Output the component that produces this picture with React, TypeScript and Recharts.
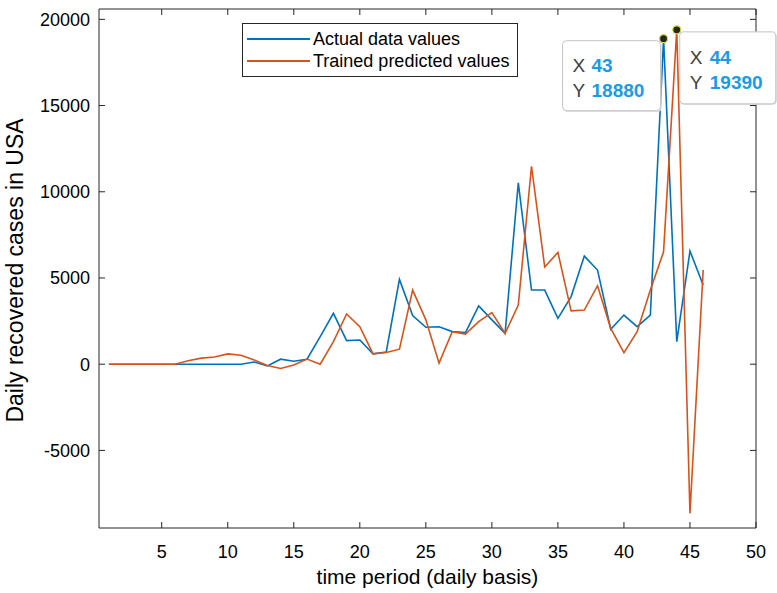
import { LineChart, Line, XAxis, YAxis, Legend, ReferenceDot } from 'recharts'

const days = [
  1, 2, 3, 4, 5, 6, 7, 8, 9, 10, 11, 12, 13, 14, 15, 16, 17, 18, 19, 20, 21, 22, 23,
  24, 25, 26, 27, 28, 29, 30, 31, 32, 33, 34, 35, 36, 37, 38, 39, 40, 41, 42, 43, 44, 45, 46,
]

const actualValues = [
  0, 0, 0, 0, 0, 0, 0, 0, 0, 0, 0, 130, -100, 290, 170, 290, 1600, 2950, 1370, 1400, 600, 710, 4920,
  2820, 2140, 2170, 1890, 1830, 3380, 2570, 1790, 10520, 4300, 4300, 2660, 3920, 6270, 5460, 2025, 2850, 2180, 2850, 18880, 1310, 6560, 4590,
]

const predictedValues = [
  0, 0, 0, 0, 0, 0, 200, 350, 420, 600, 520, 250, -80, -250, -50, 300, 0, 1310, 2910, 2180, 600, 680, 870,
  4300, 2570, 60, 1890, 1750, 2470, 2990, 1790, 3430, 11480, 5640, 6480, 3090, 3140, 4550, 2080, 670, 1890, 4300, 6520, 19390, -8650, 5460,
]

const xTicks = [5, 10, 15, 20, 25, 30, 35, 40, 45, 50]
const yTicks = [-5000, 0, 5000, 10000, 15000, 20000]

// the two MATLAB data tips
const tipDays = [43, 44]
const tipValues = [18880, 19390]
const tipSides = ['left', 'right']

const data = days.map((d, i) => ({ day: d, actual: actualValues[i], predicted: predictedValues[i] }))

const AXIS = '#262626'
const FONT = '"Liberation Sans", Arial, sans-serif'
const TICK_LEN = 6

function BottomTick({ x, y, payload }: any) {
  return (
    <g>
      <line x1={x} y1={y - 17} x2={x} y2={y - 17 - TICK_LEN} stroke={AXIS} />
      <text x={x} y={y} dy="0.72em" textAnchor="middle" fontSize={18} fontFamily={FONT} fill="#000">
        {payload.value}
      </text>
    </g>
  )
}

function LeftTick({ x, y, payload }: any) {
  return (
    <g>
      <line x1={x + 9} y1={y} x2={x + 9 + TICK_LEN} y2={y} stroke={AXIS} />
      <text x={x} y={y} dy="0.36em" textAnchor="end" fontSize={18} fontFamily={FONT} fill="#000">
        {payload.value}
      </text>
    </g>
  )
}

function TopTick({ x, y }: any) {
  return <line x1={x} y1={y} x2={x} y2={y + TICK_LEN} stroke={AXIS} />
}

function RightTick({ x, y }: any) {
  return <line x1={x} y1={y} x2={x - TICK_LEN} y2={y} stroke={AXIS} />
}

function YTitle({ viewBox }: any) {
  const cy = viewBox ? viewBox.y + viewBox.height / 2 + 2 : 271
  return (
    <text
      transform={`translate(15, ${cy}) rotate(-90)`}
      textAnchor="middle"
      dominantBaseline="central"
      fontSize={23}
      fontFamily={FONT}
      fill="#000"
    >
      Daily recovered cases in USA
    </text>
  )
}

function LegendBox({ payload }: any) {
  const items = (payload || []).filter((p: any) => p.type !== 'none')
  return (
    <div
      style={{
        width: 276,
        height: 54,
        boxSizing: 'border-box',
        border: `1px solid ${AXIS}`,
        background: '#fff',
        fontFamily: FONT,
        fontSize: 18,
        paddingTop: 4,
      }}
    >
      {items.map((p: any) => (
        <div key={p.value} style={{ display: 'flex', alignItems: 'center', height: 22, lineHeight: '22px' }}>
          <span style={{ display: 'inline-block', width: 63, height: 0, borderTop: `2px solid ${p.color}`, marginLeft: 4, marginRight: 3 }} />
          <span style={{ color: '#000', whiteSpace: 'nowrap' }}>{p.value}</span>
        </div>
      ))}
    </div>
  )
}

function DataTip({ cx, cy, day, value, side }: any) {
  const w = side === 'left' ? 98 : 96
  const h = side === 'left' ? 70 : 72
  const bx = side === 'left' ? cx - w - 3 : cx + 3
  const by = cy + 2
  const valX = side === 'left' ? 29 : 30
  return (
    <g>
      <rect x={bx + 1} y={by + 1} width={w} height={h} rx={4} fill="#d8d8d8" />
      <rect x={bx} y={by} width={w} height={h} rx={4} fill="#fff" stroke="#c4c4c4" />
      <text x={bx + 10} y={by + 25} dy="0.36em" fontSize={19} fontFamily={FONT} fill="#404040">X</text>
      <text x={bx + valX} y={by + 25} dy="0.36em" fontSize={19} fontWeight="bold" fontFamily={FONT} fill="#1a9be8">{day}</text>
      <text x={bx + 10} y={by + 50} dy="0.36em" fontSize={19} fontFamily={FONT} fill="#404040">Y</text>
      <text x={bx + valX} y={by + 50} dy="0.36em" fontSize={19} fontWeight="bold" fontFamily={FONT} fill="#1a9be8">{value}</text>
      <circle cx={cx} cy={cy} r={4} fill="#1e2a1c" stroke="#e4d24e" strokeWidth={1.2} />
    </g>
  )
}

export default function App() {
  return (
    <div style={{ position: 'absolute', left: 0, top: 0, width: 777, height: 593, background: '#fff' }}>
      <LineChart width={777} height={593} data={data} margin={{ top: 8, right: 20, bottom: 0, left: 0 }}>
        <XAxis
          dataKey="day"
          type="number"
          domain={[0.25, 50]}
          allowDataOverflow
          ticks={xTicks}
          height={65}
          tickSize={0}
          tickMargin={17}
          tick={<BottomTick />}
          axisLine={{ stroke: AXIS }}
          label={{ value: 'time period (daily basis)', position: 'insideBottom', offset: 9, fontSize: 21, fontFamily: FONT, fill: '#000' }}
        />
        <XAxis
          xAxisId="top"
          orientation="top"
          dataKey="day"
          type="number"
          domain={[0.25, 50]}
          allowDataOverflow
          ticks={xTicks}
          height={1}
          tickSize={0}
          tickMargin={0}
          tick={<TopTick />}
          axisLine={{ stroke: AXIS }}
        />
        <YAxis
          type="number"
          domain={[-9500, 20600]}
          allowDataOverflow
          ticks={yTicks}
          width={99}
          tickSize={0}
          tickMargin={9}
          tick={<LeftTick />}
          axisLine={{ stroke: AXIS }}
          label={<YTitle />}
        />
        <YAxis
          yAxisId="right"
          orientation="right"
          type="number"
          domain={[-9500, 20600]}
          allowDataOverflow
          ticks={yTicks}
          width={1}
          tickSize={0}
          tickMargin={0}
          tick={<RightTick />}
          axisLine={{ stroke: AXIS }}
        />
        <Legend
          layout="vertical"
          align="center"
          verticalAlign="middle"
          content={<LegendBox />}
          wrapperStyle={{ left: 242, top: 23, width: 276 }}
        />
        <Line
          dataKey="actual"
          name="Actual data values"
          stroke="#0072BD"
          strokeWidth={1.6}
          dot={false}
          isAnimationActive={false}
        />
        <Line
          dataKey="predicted"
          name="Trained predicted values"
          stroke="#D95319"
          strokeWidth={1.6}
          dot={false}
          isAnimationActive={false}
        />
        {tipDays.map((d, i) => (
          <ReferenceDot
            key={d}
            x={d}
            y={tipValues[i]}
            r={4}
            ifOverflow="visible"
            shape={(props: any) => <DataTip {...props} day={d} value={tipValues[i]} side={tipSides[i]} />}
          />
        ))}
      </LineChart>
    </div>
  )
}
